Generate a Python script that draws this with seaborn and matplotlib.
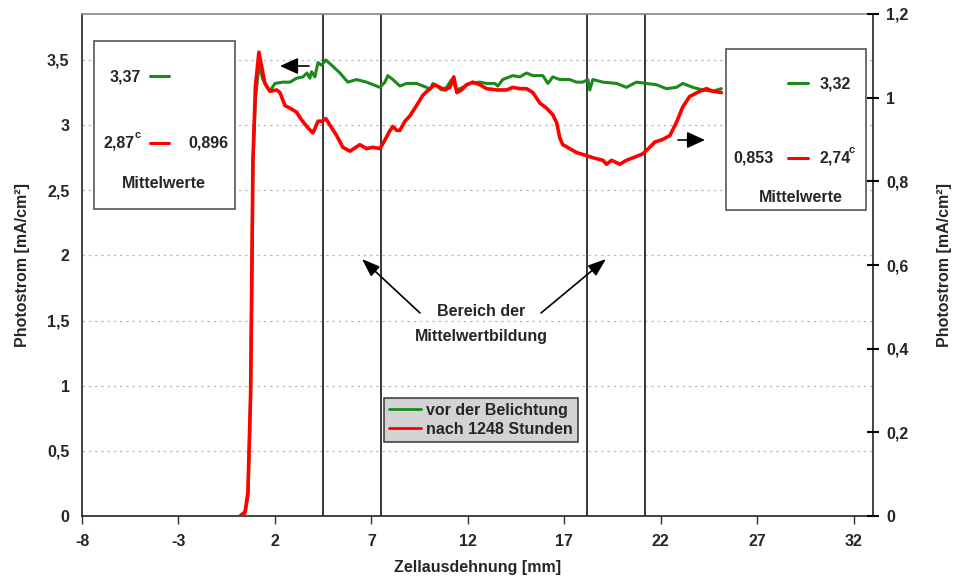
import matplotlib
matplotlib.use("Agg")
import matplotlib.pyplot as plt
import seaborn as sns
import pandas as pd
from matplotlib.patches import Rectangle, FancyArrowPatch
from matplotlib.lines import Line2D

sns.set_theme(style="white")
plt.rcParams['font.family'] = ['Liberation Sans', 'DejaVu Sans']
plt.rcParams['font.weight'] = 'bold'

# ---------------- data ----------------
x_green = [0.19, 0.45, 0.60, 0.74, 0.81, 0.86, 0.99, 1.17, 1.38, 1.74, 2.00, 2.41, 2.78, 3.12, 3.45,
           3.66, 3.81, 3.90, 4.07, 4.23, 4.42, 4.64, 4.94, 5.37, 5.78, 6.23, 6.75, 7.44, 7.70,
           7.85, 8.11, 8.48, 8.82, 9.34, 9.86, 10.03, 10.19, 10.38, 10.64, 10.90, 11.16, 11.42,
           11.74, 12.10, 12.62, 12.97, 13.40, 13.55, 13.81, 14.33, 14.69, 15.04, 15.37, 15.89,
           16.15, 16.40, 16.77, 16.92, 17.28, 17.63, 17.96, 18.22, 18.32, 18.48, 19.00, 19.71,
           20.22, 20.74, 21.26, 21.78, 22.29, 22.81, 23.14, 23.66, 24.18, 24.69, 25.14]
y_green = [0.00, 0.02, 0.15, 0.90, 1.90, 2.70, 3.20, 3.46, 3.35, 3.26, 3.32, 3.33, 3.33, 3.36, 3.37,
           3.40, 3.36, 3.41, 3.37, 3.48, 3.46, 3.50, 3.46, 3.40, 3.33, 3.35, 3.33, 3.29, 3.33,
           3.38, 3.35, 3.30, 3.32, 3.32, 3.29, 3.27, 3.32, 3.30, 3.27, 3.29, 3.35, 3.27,
           3.29, 3.32, 3.33, 3.32, 3.32, 3.30, 3.35, 3.38, 3.37, 3.40, 3.38, 3.38,
           3.32, 3.37, 3.35, 3.35, 3.35, 3.33, 3.33, 3.35, 3.27, 3.35, 3.33, 3.32,
           3.29, 3.33, 3.32, 3.31, 3.28, 3.29, 3.32, 3.29, 3.27, 3.26, 3.28]

x_red = [0.19, 0.45, 0.60, 0.74, 0.81, 0.86, 0.99, 1.17, 1.31, 1.48, 1.74, 2.09, 2.26, 2.52, 2.78,
         3.12, 3.38, 3.71, 3.97, 4.12, 4.23, 4.42, 4.64, 4.85, 5.20, 5.52, 5.89, 6.40, 6.75,
         7.08, 7.44, 7.60, 7.79, 7.93, 8.11, 8.31, 8.48, 8.74, 8.99, 9.34, 9.67, 10.03, 10.29,
         10.55, 10.81, 11.07, 11.27, 11.43, 11.67, 11.93, 12.26, 12.62, 12.97, 13.49, 14.01,
         14.33, 14.69, 15.04, 15.37, 15.73, 16.08, 16.40, 16.60, 16.77, 16.92, 17.28, 17.63,
         18.06, 18.48, 19.00, 19.19, 19.45, 19.88, 20.22, 20.74, 21.07, 21.43, 21.69, 22.10,
         22.47, 22.81, 23.14, 23.50, 24.02, 24.37, 24.69, 25.14]
y_red = [0.00, 0.03, 0.18, 0.94, 1.96, 2.73, 3.30, 3.56, 3.45, 3.32, 3.26, 3.27, 3.25, 3.15, 3.13,
         3.10, 3.04, 2.98, 2.94, 2.99, 3.03, 3.03, 3.05, 3.00, 2.92, 2.83, 2.80, 2.85, 2.82,
         2.83, 2.82, 2.86, 2.91, 2.95, 2.99, 2.96, 2.96, 3.03, 3.07, 3.15, 3.23, 3.28, 3.31,
         3.29, 3.27, 3.29, 3.37, 3.25, 3.27, 3.31, 3.33, 3.31, 3.28, 3.27, 3.27,
         3.29, 3.28, 3.28, 3.25, 3.17, 3.13, 3.08, 3.02, 2.90, 2.85, 2.82, 2.79,
         2.77, 2.75, 2.73, 2.70, 2.73, 2.70, 2.73, 2.76, 2.78, 2.83, 2.87, 2.89,
         2.92, 3.02, 3.14, 3.22, 3.26, 3.28, 3.26, 3.25]

series_names = ["vor der Belichtung", "nach 1248 Stunden"]
region_bounds = [4.5, 7.5, 18.2, 21.2]
x_ticks = [-8, -3, 2, 7, 12, 17, 22, 27, 32]
y_left_ticks = [0, 0.5, 1, 1.5, 2, 2.5, 3, 3.5]
y_right_ticks = [0, 0.2, 0.4, 0.6, 0.8, 1.0, 1.2]

GREEN = "#1b8a1b"
RED = "#ff0000"
FS = 11.5

df = pd.concat([
    pd.DataFrame({"x": x_green, "y": y_green, "Serie": series_names[0]}),
    pd.DataFrame({"x": x_red, "y": y_red, "Serie": series_names[1]}),
])

def de(v):
    return ("%g" % v).replace(".", ",")

W, H = 957, 581
fig = plt.figure(figsize=(W / 100, H / 100), dpi=100)
ax = fig.add_axes([82 / W, 65 / H, 791 / W, 502 / H])

def P(x, y):
    return (x / W, 1 - y / H)

# grid
for v in y_left_ticks[1:]:
    ax.axhline(v, color="#bdbdbd", lw=0.9, ls=(0, (2, 3)), zorder=0)

for xv in region_bounds:
    ax.axvline(xv, color="black", lw=1.1, zorder=1)

sns.lineplot(data=df, x="x", y="y", hue="Serie", palette=[GREEN, RED],
             sort=False, estimator=None, ax=ax, legend=False)
lines = ax.get_lines()[-2:]
lines[0].set_linewidth(2.2)
lines[1].set_linewidth(2.6)
lines[0].set_zorder(4)
lines[1].set_zorder(5)

ax.set_xlim(-8, 33)
ax.set_ylim(0, 3.853)
ax.set_xticks(x_ticks)
ax.set_xticklabels([de(v) for v in x_ticks], fontsize=FS, fontweight='bold')
ax.set_yticks(y_left_ticks)
ax.set_yticklabels([de(v) for v in y_left_ticks], fontsize=FS, fontweight='bold')
ax.tick_params(axis='x', direction='out', length=6, width=1, color='#333333', pad=7, bottom=True)
ax.tick_params(axis='y', direction='out', length=0, pad=9, left=True)
ax.set_xlabel("Zellausdehnung [mm]", fontsize=FS, fontweight='bold', labelpad=8)
ax.set_ylabel("Photostrom [mA/cm²]", fontsize=FS, fontweight='bold', labelpad=12)

for s in ["left", "right", "bottom"]:
    ax.spines[s].set_color("#222222")
    ax.spines[s].set_linewidth(1.2)
ax.spines["top"].set_color("#888888")
ax.spines["top"].set_linewidth(1.2)

ax2 = ax.twinx()
ax2.set_ylim(0, 1.2)
ax2.set_yticks(y_right_ticks)
ax2.set_yticklabels([de(round(v, 1)) for v in y_right_ticks], fontsize=FS, fontweight='bold')
ax2.tick_params(axis='y', direction='inout', length=9, width=1.5, color='black', pad=5)
ax2.set_ylabel("Photostrom [mA/cm²]", fontsize=FS, fontweight='bold', labelpad=26)
ax2.yaxis.set_label_coords(1.0 + 64 / 791, 0.5)
ax2.grid(False)
for s in ["left", "right", "bottom", "top"]:
    ax2.spines[s].set_visible(False)

# legend
handles = [Line2D([], [], color=GREEN, lw=2), Line2D([], [], color=RED, lw=2)]
leg = ax.legend(handles, series_names, loc="center", bbox_to_anchor=P(481, 420),
                bbox_transform=fig.transFigure, frameon=True, fancybox=False,
                prop={'weight': 'bold', 'size': FS}, handlelength=2.0, handletextpad=0.3,
                borderpad=0.3, labelspacing=0.25, borderaxespad=0)
leg.get_frame().set_facecolor("#d3d3d3")
leg.get_frame().set_edgecolor("#444444")
leg.get_frame().set_linewidth(1.2)
leg.get_frame().set_alpha(1)

# boxes with mean values
def box(x0, y0, x1, y1):
    r = Rectangle(P(x0, y1), (x1 - x0) / W, (y1 - y0) / H, transform=fig.transFigure,
                  facecolor="white", edgecolor="#555555", lw=1.2, zorder=6)
    fig.patches.append(r)

def dash(x0, x1, y, c):
    fig.add_artist(Line2D([x0 / W, x1 / W], [1 - y / H, 1 - y / H], color=c, lw=2.2, zorder=7,
                          transform=fig.transFigure))

def txt(x, y, s, size=FS, ha="center"):
    fig.text(*P(x, y), s, ha=ha, va="center", fontsize=size, fontweight='bold', zorder=8)

box(94, 41, 235, 209)
txt(125, 77, "3,37")
dash(150, 169, 76, GREEN)
txt(103, 143, "2,87", ha="left")
txt(135, 135, "c", size=8, ha="left")
dash(150, 169, 143, RED)
txt(208, 143, "0,896")
txt(164, 183, "Mittelwerte")

box(726, 49, 866, 210)
dash(788, 808, 83, GREEN)
txt(835, 84, "3,32")
txt(753, 158, "0,853")
dash(788, 808, 158, RED)
txt(819, 158, "2,74", ha="left")
txt(849, 150, "c", size=8, ha="left")
txt(801, 197, "Mittelwerte")

# arrows
def arrow(x0, y0, x1, y1, hw=0.5, hl=1.0):
    fig.add_artist(FancyArrowPatch(
        P(x0, y0), P(x1, y1), transform=fig.transFigure,
        arrowstyle=f"-|>,head_width={hw},head_length={hl}", mutation_scale=10,
        shrinkA=0, shrinkB=0, color="black", lw=1.2, zorder=9))

arrow(309, 66, 280, 66, hw=0.5, hl=1.1)
arrow(678, 140, 705, 140, hw=0.5, hl=1.1)
arrow(420, 313, 362, 259, hw=0.4, hl=1.1)
arrow(541, 313, 606, 259, hw=0.4, hl=1.1)
txt(481, 311, "Bereich der")
txt(481, 336, "Mittelwertbildung")

fig.savefig("out.png", dpi=100)
